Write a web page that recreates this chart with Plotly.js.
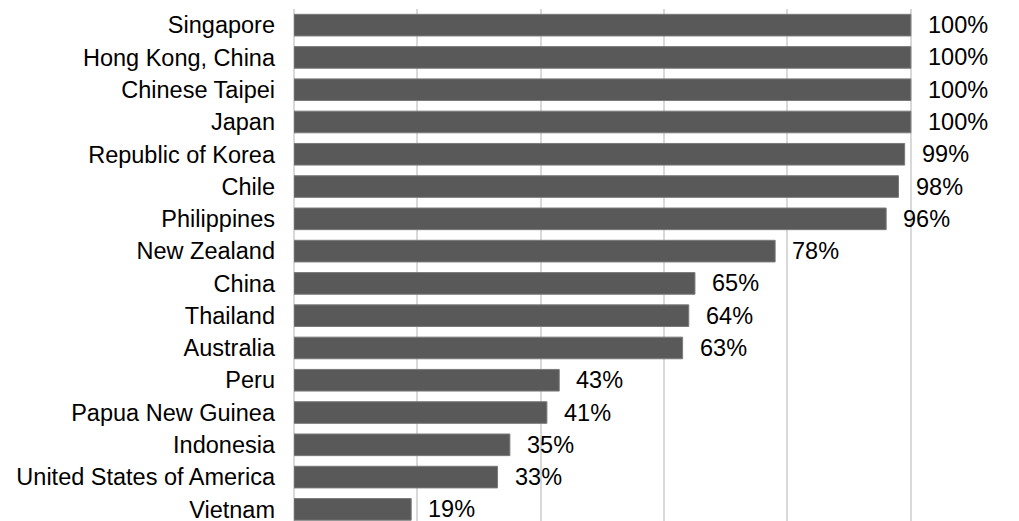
<!DOCTYPE html>
<html>
<head>
<meta charset="utf-8">
<script src="https://cdn.plot.ly/plotly-3.0.1.min.js"></script>
<style>html,body{margin:0;padding:0;background:#fff;}#chart{width:1019px;height:521px;}</style>
</head>
<body>
<div id="chart"></div>
<script>
const economies = ["Singapore","Hong Kong, China","Chinese Taipei","Japan","Republic of Korea","Chile","Philippines","New Zealand","China","Thailand","Australia","Peru","Papua New Guinea","Indonesia","United States of America","Vietnam"];
const shares = [100,100,100,100,99,98,96,78,65,64,63,43,41,35,33,19];
const shareLabels = shares.map(v => v + "%");

const font = "Liberation Sans, Arial, sans-serif";

const trace = {
  type: "bar",
  orientation: "h",
  x: shares,
  y: economies,
  marker: {color: "#595959", line: {color: "#7a7a7a", width: 1}},
  width: 0.67,
  hoverinfo: "skip"
};

const annotations = economies.map((e, i) => ({
  x: shares[i], y: e, xref: "x", yref: "y",
  text: shareLabels[i], showarrow: false,
  xanchor: "left", yanchor: "middle", xshift: 15,
  font: {family: font, size: 23.5, color: "#000"}
}));

const layout = {
  width: 1019, height: 521,
  margin: {l: 294, r: 102, t: 9, b: 0, pad: 0},
  paper_bgcolor: "#fff", plot_bgcolor: "#fff",
  showlegend: false,
  xaxis: {
    range: [0, 101], tickvals: [0,20,40,60,80,100], showticklabels: false,
    showgrid: true, gridcolor: "#d9d9d9", gridwidth: 2,
    zeroline: true, zerolinecolor: "#d9d9d9", zerolinewidth: 2,
    showline: false, ticks: ""
  },
  yaxis: {
    type: "category", range: [15.36, -0.5],
    showgrid: false, zeroline: false, showline: false, ticks: "",
    ticklabelstandoff: 18,
    tickfont: {family: font, size: 23.5, color: "#000"}
  },
  annotations: annotations
};

Plotly.newPlot("chart", [trace], layout, {displayModeBar: false, staticPlot: true});
</script>
</body>
</html>
